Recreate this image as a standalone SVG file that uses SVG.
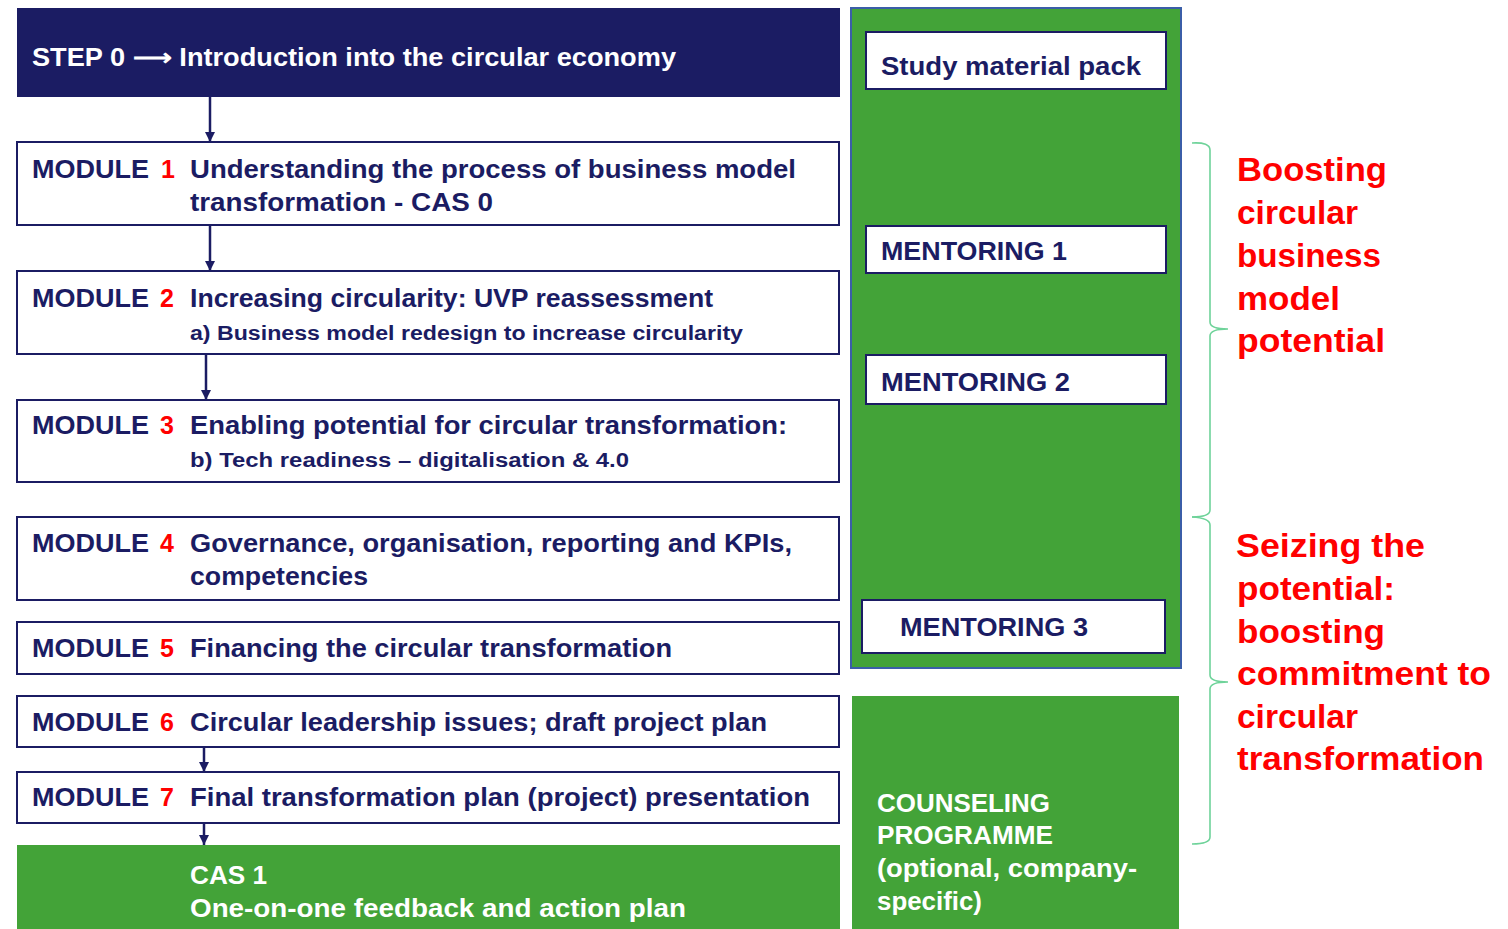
<svg xmlns="http://www.w3.org/2000/svg" width="1508" height="929" viewBox="0 0 1508 929">
<defs>
<marker id="ah" viewBox="0 0 10 10" refX="10" refY="5" markerWidth="10" markerHeight="10" orient="auto" markerUnits="userSpaceOnUse">
<path d="M0,0 L10,5 L0,10 z" fill="#1b1c63"/>
</marker>
<style>
.t{font-family:"Liberation Sans",Arial,sans-serif;font-weight:bold;}
.nv{fill:#1b1c63;}
.wh{fill:#ffffff;}
.rd{fill:#ff0000;}
.m{font-size:25px;}
.s{font-size:20px;}
.r{font-size:33px;}
.box{fill:#ffffff;stroke:#1b1c63;stroke-width:2;}
.conn{stroke:#1b1c63;stroke-width:2.5;fill:none;}
.brace{stroke:#6fd39a;stroke-width:1.6;fill:none;}
</style>
</defs>
<rect width="1508" height="929" fill="#ffffff"/>

<g id="connectors">
<line class="conn" x1="210" y1="97" x2="210" y2="142" marker-end="url(#ah)"/>
<line class="conn" x1="210" y1="226" x2="210" y2="271" marker-end="url(#ah)"/>
<line class="conn" x1="206" y1="355" x2="206" y2="400" marker-end="url(#ah)"/>
<line class="conn" x1="204" y1="748" x2="204" y2="772" marker-end="url(#ah)"/>
<line class="conn" x1="204" y1="824" x2="204" y2="845" marker-end="url(#ah)"/>
</g>

<g id="step0">
<rect x="17" y="8" width="823" height="89" fill="#1b1c63"/>
<text class="t m wh" x="32" y="66" textLength="644" lengthAdjust="spacingAndGlyphs">STEP 0 ⟶ Introduction into the circular economy</text>
</g>

<g id="module1">
<rect class="box" x="17" y="142" width="822" height="83"/>
<text class="t m nv" x="32" y="178" textLength="117" lengthAdjust="spacingAndGlyphs">MODULE</text>
<text class="t m rd" x="161" y="178">1</text>
<text class="t m nv" x="190" y="178" textLength="606" lengthAdjust="spacingAndGlyphs">Understanding the process of business model</text>
<text class="t m nv" x="190" y="211" textLength="303" lengthAdjust="spacingAndGlyphs">transformation - CAS 0</text>
</g>

<g id="module2">
<rect class="box" x="17" y="271" width="822" height="83"/>
<text class="t m nv" x="32" y="307" textLength="117" lengthAdjust="spacingAndGlyphs">MODULE</text>
<text class="t m rd" x="160" y="307">2</text>
<text class="t m nv" x="190" y="307" textLength="523" lengthAdjust="spacingAndGlyphs">Increasing circularity: UVP reassessment</text>
<text class="t s nv" x="190" y="340" textLength="553" lengthAdjust="spacingAndGlyphs">a) Business model redesign to increase circularity</text>
</g>

<g id="module3">
<rect class="box" x="17" y="400" width="822" height="82"/>
<text class="t m nv" x="32" y="434" textLength="117" lengthAdjust="spacingAndGlyphs">MODULE</text>
<text class="t m rd" x="160" y="434">3</text>
<text class="t m nv" x="190" y="434" textLength="597" lengthAdjust="spacingAndGlyphs">Enabling potential for circular transformation:</text>
<text class="t s nv" x="190" y="467" textLength="439" lengthAdjust="spacingAndGlyphs">b) Tech readiness – digitalisation &amp; 4.0</text>
</g>

<g id="module4">
<rect class="box" x="17" y="517" width="822" height="83"/>
<text class="t m nv" x="32" y="552" textLength="117" lengthAdjust="spacingAndGlyphs">MODULE</text>
<text class="t m rd" x="160" y="552">4</text>
<text class="t m nv" x="190" y="552" textLength="602" lengthAdjust="spacingAndGlyphs">Governance, organisation, reporting and KPIs,</text>
<text class="t m nv" x="190" y="585" textLength="178" lengthAdjust="spacingAndGlyphs">competencies</text>
</g>

<g id="module5">
<rect class="box" x="17" y="622" width="822" height="52"/>
<text class="t m nv" x="32" y="657" textLength="117" lengthAdjust="spacingAndGlyphs">MODULE</text>
<text class="t m rd" x="160" y="657">5</text>
<text class="t m nv" x="190" y="657" textLength="482" lengthAdjust="spacingAndGlyphs">Financing the circular transformation</text>
</g>

<g id="module6">
<rect class="box" x="17" y="696" width="822" height="51"/>
<text class="t m nv" x="32" y="731" textLength="117" lengthAdjust="spacingAndGlyphs">MODULE</text>
<text class="t m rd" x="160" y="731">6</text>
<text class="t m nv" x="190" y="731" textLength="577" lengthAdjust="spacingAndGlyphs">Circular leadership issues; draft project plan</text>
</g>

<g id="module7">
<rect class="box" x="17" y="772" width="822" height="51"/>
<text class="t m nv" x="32" y="806" textLength="117" lengthAdjust="spacingAndGlyphs">MODULE</text>
<text class="t m rd" x="160" y="806">7</text>
<text class="t m nv" x="190" y="806" textLength="620" lengthAdjust="spacingAndGlyphs">Final transformation plan (project) presentation</text>
</g>

<g id="cas1">
<rect x="17" y="845" width="823" height="84" fill="#43a338"/>
<text class="t m wh" x="190" y="884" textLength="77" lengthAdjust="spacingAndGlyphs">CAS 1</text>
<text class="t m wh" x="190" y="917" textLength="496" lengthAdjust="spacingAndGlyphs">One-on-one feedback and action plan</text>
</g>

<g id="support-panel">
<rect x="851" y="8" width="330" height="660" fill="#43a338" stroke="#3b5ea8" stroke-width="2"/>
</g>

<g id="study-pack">
<rect class="box" x="866" y="32" width="300" height="57"/>
<text class="t m nv" x="881" y="75" textLength="260" lengthAdjust="spacingAndGlyphs">Study material pack</text>
</g>

<g id="mentoring1">
<rect class="box" x="866" y="226" width="300" height="47"/>
<text class="t m nv" x="881" y="260" textLength="186" lengthAdjust="spacingAndGlyphs">MENTORING 1</text>
</g>

<g id="mentoring2">
<rect class="box" x="866" y="355" width="300" height="49"/>
<text class="t m nv" x="881" y="391" textLength="189" lengthAdjust="spacingAndGlyphs">MENTORING 2</text>
</g>

<g id="mentoring3">
<rect class="box" x="862" y="600" width="303" height="53"/>
<text class="t m nv" x="900" y="636" textLength="188" lengthAdjust="spacingAndGlyphs">MENTORING 3</text>
</g>

<g id="counseling">
<rect x="852" y="696" width="327" height="233" fill="#43a338"/>
<text class="t m wh" x="877" y="812" textLength="173" lengthAdjust="spacingAndGlyphs">COUNSELING</text>
<text class="t m wh" x="877" y="844" textLength="176" lengthAdjust="spacingAndGlyphs">PROGRAMME</text>
<text class="t m wh" x="877" y="877" textLength="260" lengthAdjust="spacingAndGlyphs">(optional, company-</text>
<text class="t m wh" x="877" y="910" textLength="105" lengthAdjust="spacingAndGlyphs">specific)</text>
</g>

<g id="brace1">
<path class="brace" d="M1192,143 Q1210,142 1210,150 L1210,322 Q1210,329 1228,329 Q1210,329 1210,336 L1210,510 Q1210,517 1192,517"/>
<text class="t r rd" x="1237" y="181" textLength="150" lengthAdjust="spacingAndGlyphs">Boosting</text>
<text class="t r rd" x="1237" y="224" textLength="121" lengthAdjust="spacingAndGlyphs">circular</text>
<text class="t r rd" x="1237" y="267" textLength="144" lengthAdjust="spacingAndGlyphs">business</text>
<text class="t r rd" x="1237" y="310" textLength="103" lengthAdjust="spacingAndGlyphs">model</text>
<text class="t r rd" x="1237" y="352" textLength="148" lengthAdjust="spacingAndGlyphs">potential</text>
</g>

<g id="brace2">
<path class="brace" d="M1192,517 Q1210,518 1210,525 L1210,675 Q1210,682 1228,682 Q1210,682 1210,689 L1210,837 Q1210,844 1192,844"/>
<text class="t r rd" x="1236" y="557" textLength="189" lengthAdjust="spacingAndGlyphs">Seizing the</text>
<text class="t r rd" x="1237" y="600" textLength="158" lengthAdjust="spacingAndGlyphs">potential:</text>
<text class="t r rd" x="1237" y="643" textLength="148" lengthAdjust="spacingAndGlyphs">boosting</text>
<text class="t r rd" x="1237" y="685" textLength="254" lengthAdjust="spacingAndGlyphs">commitment to</text>
<text class="t r rd" x="1237" y="728" textLength="121" lengthAdjust="spacingAndGlyphs">circular</text>
<text class="t r rd" x="1237" y="770" textLength="247" lengthAdjust="spacingAndGlyphs">transformation</text>
</g>
</svg>
